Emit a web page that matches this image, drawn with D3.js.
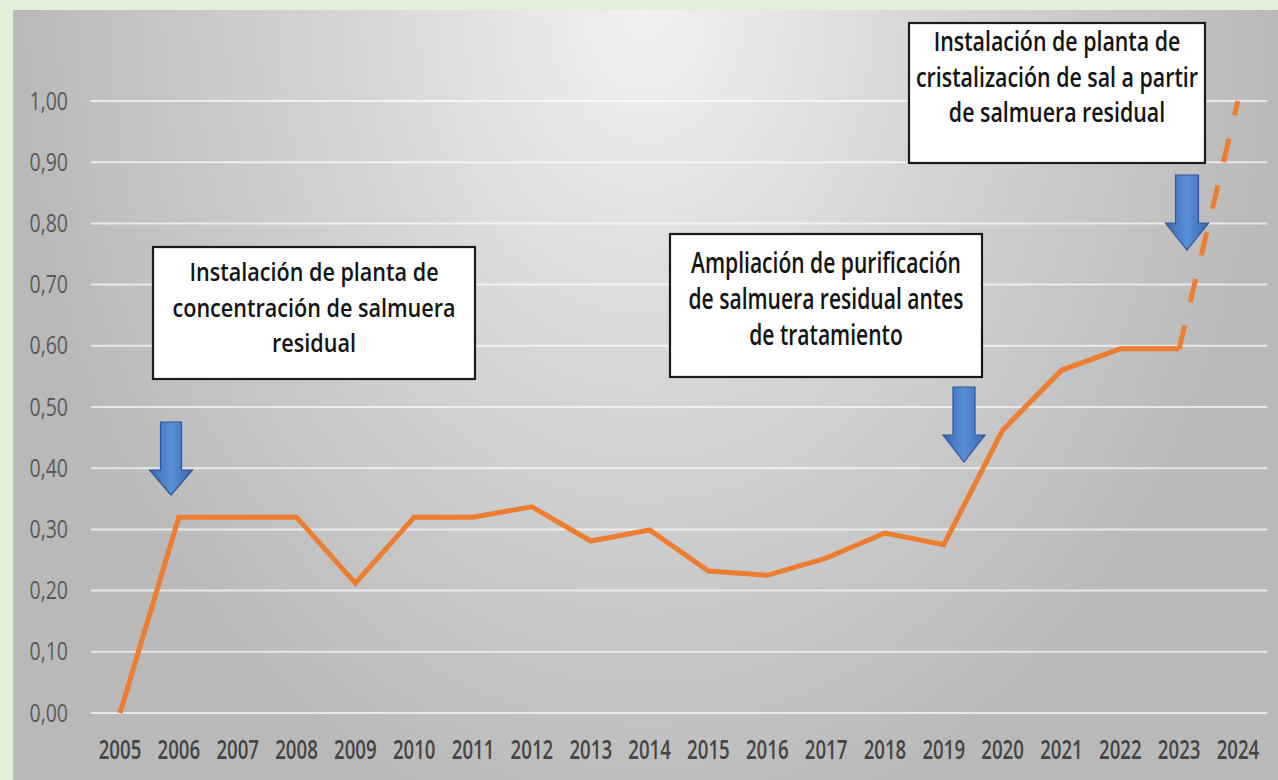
<!DOCTYPE html>
<html><head><meta charset="utf-8">
<script src="https://cdn.jsdelivr.net/npm/d3@7"></script>
<style>html,body{margin:0;padding:0;background:#e2efd9;}svg{display:block;}</style>
</head><body>
<svg id="chart" width="1278" height="780"></svg>
<script>
// ---- data ----
const years = [2005,2006,2007,2008,2009,2010,2011,2012,2013,2014,2015,2016,2017,2018,2019,2020,2021,2022,2023,2024];
const values = [0.00,0.32,0.32,0.32,0.212,0.32,0.32,0.337,0.281,0.299,0.232,0.225,0.253,0.294,0.275,0.462,0.56,0.595,0.595,1.00];
const projectedFrom = 2023; // segment 2023->2024 is dashed (projection)
const yTicks = [0,0.1,0.2,0.3,0.4,0.5,0.6,0.7,0.8,0.9,1.0];
const yTickLabels = ["0,00","0,10","0,20","0,30","0,40","0,50","0,60","0,70","0,80","0,90","1,00"];
const noteTexts = [
  ["Instalación de planta de","concentración de salmuera","residual"],
  ["Ampliación de purificación","de salmuera residual antes","de tratamiento"],
  ["Instalación de planta de","cristalización de sal a partir","de salmuera residual"]
];

// ---- layout ----
const W = 1278, H = 780;
const svg = d3.select("#chart");
const defs = svg.append("defs");

const bg = defs.append("radialGradient").attr("id","bgGrad")
  .attr("cx",0.5).attr("cy",0).attr("r",0.5)
  .attr("gradientTransform","translate(0.5,0) scale(1,2.2) translate(-0.5,0)");
bg.append("stop").attr("offset",0).attr("stop-color","#f1f1f1");
bg.append("stop").attr("offset",0.45).attr("stop-color","#d6d6d6");
bg.append("stop").attr("offset",1).attr("stop-color","#b9b9b9");

const ag = defs.append("linearGradient").attr("id","arrowGrad").attr("x1",0).attr("x2",1).attr("y1",0).attr("y2",0);
ag.append("stop").attr("offset",0).attr("stop-color","#3b66b0");
ag.append("stop").attr("offset",0.5).attr("stop-color","#5a8fd8");
ag.append("stop").attr("offset",1).attr("stop-color","#3b66b0");

svg.append("rect").attr("x",0).attr("y",0).attr("width",W).attr("height",H).attr("fill","#e2efd9");
svg.append("rect").attr("x",13).attr("y",10).attr("width",W-13).attr("height",H-10).attr("fill","url(#bgGrad)");

const x = d3.scaleBand().domain(years).range([90.6,1267.4]).padding(0);
const xc = d => x(d) + x.bandwidth()/2;
const y = d3.scaleLinear().domain([0,1]).range([713,101]);

function squeeze(sel, k){
  sel.each(function(){
    const len = this.getComputedTextLength();
    d3.select(this).attr("textLength", len*k).attr("lengthAdjust","spacingAndGlyphs");
  });
}

// gridlines
svg.append("g").selectAll("line").data(yTicks).join("line")
  .attr("x1",90.6).attr("x2",1267.4)
  .attr("y1",d=>y(d)).attr("y2",d=>y(d))
  .attr("stroke","#ffffff").attr("stroke-opacity",0.65).attr("stroke-width",2);

// y labels
const yl = svg.append("g").selectAll("text").data(yTicks).join("text")
  .attr("x",68).attr("y",d=>y(d)+8.5)
  .attr("text-anchor","end")
  .attr("font-family","Open Sans").attr("font-size",25).attr("fill","#5a5a5a")
  .text((d,i)=>yTickLabels[i]);
squeeze(yl, 0.78);

// x labels
const xl = svg.append("g").selectAll("text").data(years).join("text")
  .attr("x",d=>xc(d)).attr("y",759)
  .attr("text-anchor","middle")
  .attr("font-family","Open Sans").attr("font-weight",600).attr("font-size",27).attr("fill","#454545")
  .text(d=>d);
squeeze(xl, 0.69);

// line
const pts = years.map((yr,i)=>({yr, v:values[i]}));
const line = d3.line().x(d=>xc(d.yr)).y(d=>y(d.v));
svg.append("path").datum(pts.filter(d=>d.yr<=projectedFrom))
  .attr("d",line).attr("fill","none").attr("stroke","#ed7d31").attr("stroke-width",5)
  .attr("stroke-linejoin","miter");
svg.append("path").datum(pts.filter(d=>d.yr>=projectedFrom))
  .attr("d",line).attr("fill","none").attr("stroke","#ed7d31").attr("stroke-width",5)
  .attr("stroke-dasharray","24,24");

// annotation boxes
const boxLayout = [
  {x:153,y:247,w:322,h:132,fs:26,base:[281,317,352],target:283},
  {x:670,y:234,w:312,h:143,fs:28,base:[273,309,345],target:275},
  {x:909,y:23,w:296,h:140,fs:27,base:[51,87,122],target:282}
];
boxLayout.forEach((b,i)=>{
  const g = svg.append("g");
  g.append("rect").attr("x",b.x).attr("y",b.y).attr("width",b.w).attr("height",b.h)
    .attr("fill","#ffffff").attr("stroke","#1a1a1a").attr("stroke-width",2.2);
  const t = g.selectAll("text").data(noteTexts[i]).join("text")
    .attr("x",b.x+b.w/2).attr("y",(d,j)=>b.base[j])
    .attr("text-anchor","middle")
    .attr("font-family","Open Sans").attr("font-weight",600).attr("font-size",b.fs).attr("fill","#141414")
    .text(d=>d);
  let maxLen = 0;
  t.each(function(){ maxLen = Math.max(maxLen, this.getComputedTextLength()); });
  squeeze(t, b.target/maxLen);
});

// arrows
const arrowLayout = [
  {cx:171,top:422,head:470,tip:495,sw:21,hw:43},
  {cx:964,top:387,head:435,tip:462,sw:22,hw:42},
  {cx:1187,top:175,head:223,tip:250,sw:23,hw:43}
];
svg.append("g").selectAll("path").data(arrowLayout).join("path")
  .attr("d",a=>`M${a.cx-a.sw/2},${a.top}L${a.cx+a.sw/2},${a.top}L${a.cx+a.sw/2},${a.head}L${a.cx+a.hw/2},${a.head}L${a.cx},${a.tip}L${a.cx-a.hw/2},${a.head}L${a.cx-a.sw/2},${a.head}Z`)
  .attr("fill","url(#arrowGrad)").attr("stroke","#2f5597").attr("stroke-width",1.2);
</script>
</body></html>
